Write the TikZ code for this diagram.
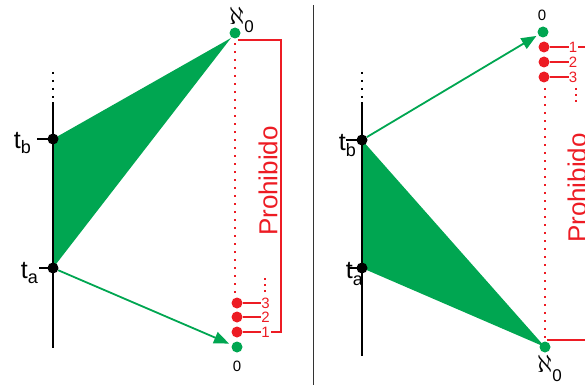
\documentclass[tikz,border=0pt]{standalone}
\usepackage{fontspec}
\setmainfont{Liberation Sans}
\usetikzlibrary{arrows.meta}
\definecolor{grn}{RGB}{0,166,81}
\definecolor{rd}{RGB}{237,28,36}
\begin{document}
\begin{tikzpicture}[x=1pt,y=-1pt,
 bdot/.style={circle,fill=black,inner sep=0pt,minimum size=11pt},
 gdot/.style={circle,fill=grn,inner sep=0pt,minimum size=11pt},
 rdot/.style={circle,fill=rd,inner sep=0pt,minimum size=11pt},
 axisline/.style={line width=2pt,black},
 tickline/.style={line width=1.2pt,black},
 vdotline/.style={line width=2pt,dash pattern=on 2pt off 6pt},
 reddots/.style={rd,line width=2pt,dash pattern=on 2pt off 6pt},
 smallreddots/.style={rd,line width=1.6pt,dash pattern=on 1.6pt off 4.4pt},
 redline/.style={rd,line width=1.2pt},
 garrow/.style={grn,line width=1.8pt,-{Triangle[length=15pt,width=12pt]}},
 gfill/.style={fill=grn},
 sepline/.style={line width=1pt,black!80},
 tlab/.style={inner sep=0pt,font=\fontsize{25}{25}\selectfont},
 rnum/.style={text=rd,inner sep=0pt,font=\fontsize{15}{15}\selectfont},
 knum/.style={inner sep=0pt,font=\fontsize{15}{15}\selectfont},
 alab/.style={inner sep=0pt,font=\fontsize{24}{24}\selectfont},
 proh/.style={text=rd,rotate=90,inner sep=0pt,font=\fontsize{26}{26}\selectfont},
]
\useasboundingbox (0,0) rectangle (585,385);
\clip (0,0) rectangle (585,385);

% ---------- coordinates ----------
\coordinate (tbLc) at (53,139);
\coordinate (taLc) at (53,268);
\coordinate (apexL) at (231,38);
\coordinate (tbRc) at (362,140);
\coordinate (taRc) at (362,268);
\coordinate (gBRc) at (545,347);

% ---------- green triangles ----------
\fill[gfill] (tbLc) -- (taLc) -- (apexL) -- cycle;
\fill[gfill] (tbRc) -- (taRc) -- (gBRc) -- cycle;

% ---------- left panel ----------
\coordinate (axLtop) at (53,102);
\coordinate (axLbot) at (53,348);
\coordinate (vdL1) at (53,72);
\coordinate (vdL2) at (53,99);
\draw[axisline] (axLtop) -- (axLbot);
\draw[vdotline] (vdL1) -- (vdL2);
\coordinate (tkbL) at (37,139);
\coordinate (tkaL) at (39,268);
\draw[tickline] (tkbL) -- (tbLc);
\draw[tickline] (tkaL) -- (taLc);
\node[bdot] (tbL) at (tbLc) {};
\node[bdot] (taL) at (taLc) {};
\node[tlab,anchor=base east] (labtbL) at (31,148) {t\raisebox{-5pt}{\fontsize{18}{18}\selectfont b}};
\node[tlab,anchor=base east] (labtaL) at (38,278) {t\raisebox{-5pt}{\fontsize{18}{18}\selectfont a}};

% red dotted column and labels
\coordinate (rdL1) at (235,43);
\coordinate (rdL2) at (235,293);
\draw[reddots] (rdL1) -- (rdL2);
\node[rdot] (r3L) at (237,303) {};
\node[rdot] (r2L) at (237,317) {};
\node[rdot] (r1L) at (237,332) {};
\node[rnum] (n3L) at (265.5,303) {3};
\node[rnum] (n2L) at (265.5,317) {2};
\node[rnum] (n1L) at (265.5,332) {1};
\draw[redline] (r3L) -- (n3L.west);
\draw[redline] (r2L) -- (n2L.west);
\draw[redline] (r1L) -- (n1L.west);
\coordinate (svL1) at (265,278);
\coordinate (svL2) at (265,293);
\draw[smallreddots] (svL1) -- (svL2);
\coordinate (bkL1) at (238,40);
\coordinate (bkL2) at (281,40);
\coordinate (bkL3) at (281,332);
\draw[redline] (bkL1) -- (bkL2) -- (bkL3) -- ([xshift=1pt]n1L.east);
\node[proh] (prohL) at (268,181) {Prohibido};

\node[gdot] (gTL) at (235,33) {};
\node[gdot] (gBL) at (237,347) {};
\node[alab,anchor=base west] (alephL) at (229,25) {$\aleph$\raisebox{-8pt}{\fontsize{17}{17}\selectfont 0}};
\node[knum] (zeroL) at (237,366) {0};
\draw[garrow,shorten >=3pt] (taL) -- (gBL);

% ---------- separator ----------
\coordinate (sep1) at (313,5);
\coordinate (sep2) at (313,385);
\draw[sepline] (sep1) -- (sep2);

% ---------- right panel ----------
\coordinate (axRtop) at (362,102);
\coordinate (axRbot) at (362,356);
\coordinate (vdR1) at (362,72);
\coordinate (vdR2) at (362,99);
\draw[axisline] (axRtop) -- (axRbot);
\draw[vdotline] (vdR1) -- (vdR2);
\coordinate (tkbR) at (346,140);
\coordinate (tkaR) at (348,268);
\draw[tickline] (tkbR) -- (tbRc);
\draw[tickline] (tkaR) -- (taRc);
\node[bdot] (tbR) at (tbRc) {};
\node[bdot] (taR) at (taRc) {};
\node[tlab,anchor=base east] (labtbR) at (356,150) {t\raisebox{-6pt}{\fontsize{18}{18}\selectfont b}};
\node[tlab,anchor=base east] (labtaR) at (363,278) {t\raisebox{-7pt}{\fontsize{18}{18}\selectfont a}};

\coordinate (rdR1) at (545,88);
\coordinate (rdR2) at (545,338);
\draw[reddots] (rdR1) -- (rdR2);
\node[rdot] (r1R) at (544,47) {};
\node[rdot] (r2R) at (544,62) {};
\node[rdot] (r3R) at (544,77) {};
\node[rnum] (n1R) at (573,47) {1};
\node[rnum] (n2R) at (573,62) {2};
\node[rnum] (n3R) at (573,77) {3};
\draw[redline] (r1R) -- (n1R.west);
\draw[redline] (r2R) -- (n2R.west);
\draw[redline] (r3R) -- (n3R.west);
\coordinate (svR1) at (576,88);
\coordinate (svR2) at (576,103);
\draw[smallreddots] (svR1) -- (svR2);
\coordinate (bkR1) at (596,47);
\coordinate (bkR2) at (596,340);
\coordinate (bkR3) at (547,340);
\draw[redline] ([xshift=1pt]n1R.east) -- (bkR1) -- (bkR2) -- (bkR3);
\node[proh] (prohR) at (577,188) {Prohibido};

\node[gdot] (gTR) at (543,32) {};
\node[gdot] (gBR) at (gBRc) {};
\node[knum] (zeroR) at (542,15) {0};
\node[alab,anchor=base west] (alephR) at (537,372) {$\aleph$\raisebox{-9pt}{\fontsize{17}{17}\selectfont 0}};
\draw[garrow,shorten >=2pt] (tbR) -- (gTR);
\end{tikzpicture}
\end{document}
